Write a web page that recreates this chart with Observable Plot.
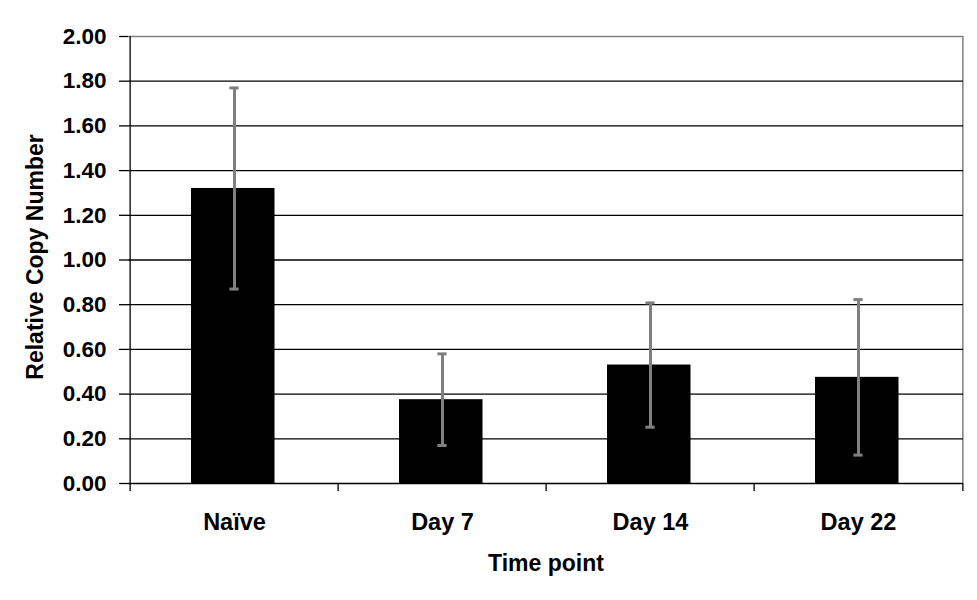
<!DOCTYPE html>
<html>
<head>
<meta charset="utf-8">
<script src="https://cdn.jsdelivr.net/npm/d3@7"></script>
<script src="https://cdn.jsdelivr.net/npm/@observablehq/plot@0.6"></script>
<style>
  html, body { margin: 0; padding: 0; background: #fff; }
  svg { font-family: "Liberation Sans", Arial, sans-serif; }
</style>
</head>
<body>
<div id="chart"></div>
<script>
const categories = ["Naïve", "Day 7", "Day 14", "Day 22"];
const means = [1.32, 0.375, 0.53, 0.475];
const errors = [0.45, 0.205, 0.278, 0.348];
const yTicks = [0, 0.2, 0.4, 0.6, 0.8, 1.0, 1.2, 1.4, 1.6, 1.8, 2.0];
const gridTicks = [0.2, 0.4, 0.6, 0.8, 1.0, 1.2, 1.4, 1.6, 1.8];

const data = categories.map((c, i) => ({cat: c, mean: means[i], lo: means[i] - errors[i], hi: means[i] + errors[i]}));

const W = 977, H = 600, mL = 128, mR = 14, mT = 36, mB = 117;
const step = (W - mL - mR) / categories.length;

const chart = Plot.plot({
  width: W,
  height: H,
  marginLeft: mL,
  marginRight: mR,
  marginTop: mT,
  marginBottom: mB,
  style: {fontFamily: '"Liberation Sans", Arial, sans-serif', background: "#fff"},
  x: {domain: categories, type: "band", padding: 0},
  y: {domain: [0, 2]},
  marks: [
    // gray top and right border
    Plot.ruleY([2], {stroke: "#808080", strokeWidth: 1.5}),
    Plot.ruleX([categories[categories.length - 1]], {dx: step / 2, stroke: "#808080", strokeWidth: 1.5}),
    // gridlines
    Plot.ruleY(gridTicks, {stroke: "#000", strokeWidth: 1.3}),
    // bars
    Plot.barY(data, {x: "cat", y: "mean", fill: "#000", insetLeft: 61, insetRight: 63.5}),
    // error bars
    Plot.ruleX(data, {x: "cat", y1: "lo", y2: "hi", stroke: "#808080", strokeWidth: 3}),
    Plot.tickY(data, {x: "cat", y: "hi", stroke: "#808080", strokeWidth: 3, insetLeft: step / 2 - 5, insetRight: step / 2 - 5}),
    Plot.tickY(data, {x: "cat", y: "lo", stroke: "#808080", strokeWidth: 3, insetLeft: step / 2 - 5, insetRight: step / 2 - 5}),
    // axes lines
    Plot.ruleY([0], {stroke: "#000", strokeWidth: 1.3}),
    Plot.ruleX([categories[0]], {dx: -step / 2, stroke: "#000", strokeWidth: 1.3}),
    // x boundary ticks
    Plot.ruleX(categories, {x: d => d, y1: 0, y2: 0, dx: -step / 2, insetBottom: -8, stroke: "#000", strokeWidth: 1.3}),
    Plot.ruleX([categories[categories.length - 1]], {x: d => d, y1: 0, y2: 0, dx: step / 2, insetBottom: -8, stroke: "#000", strokeWidth: 1.3}),
    Plot.axisY({ticks: yTicks, tickFormat: d => d.toFixed(2), tickSize: 9, tickPadding: 13, fontSize: 22.5, fontWeight: "bold", label: null, stroke: "#000", strokeWidth: 1.3}),
    Plot.axisX({tickSize: 0, tickPadding: 30, fontSize: 23.5, fontWeight: "bold", label: null}),
    Plot.text(["Relative Copy Number"], {frameAnchor: "left", rotate: -90, textAnchor: "middle", dx: -93, dy: -3, fontSize: 23, fontWeight: "bold", fill: "#000"}),
    Plot.text(["Time point"], {frameAnchor: "bottom", dy: 87, fontSize: 23, fontWeight: "bold", fill: "#000"})
  ]
});
document.getElementById("chart").appendChild(chart);
</script>
</body>
</html>
